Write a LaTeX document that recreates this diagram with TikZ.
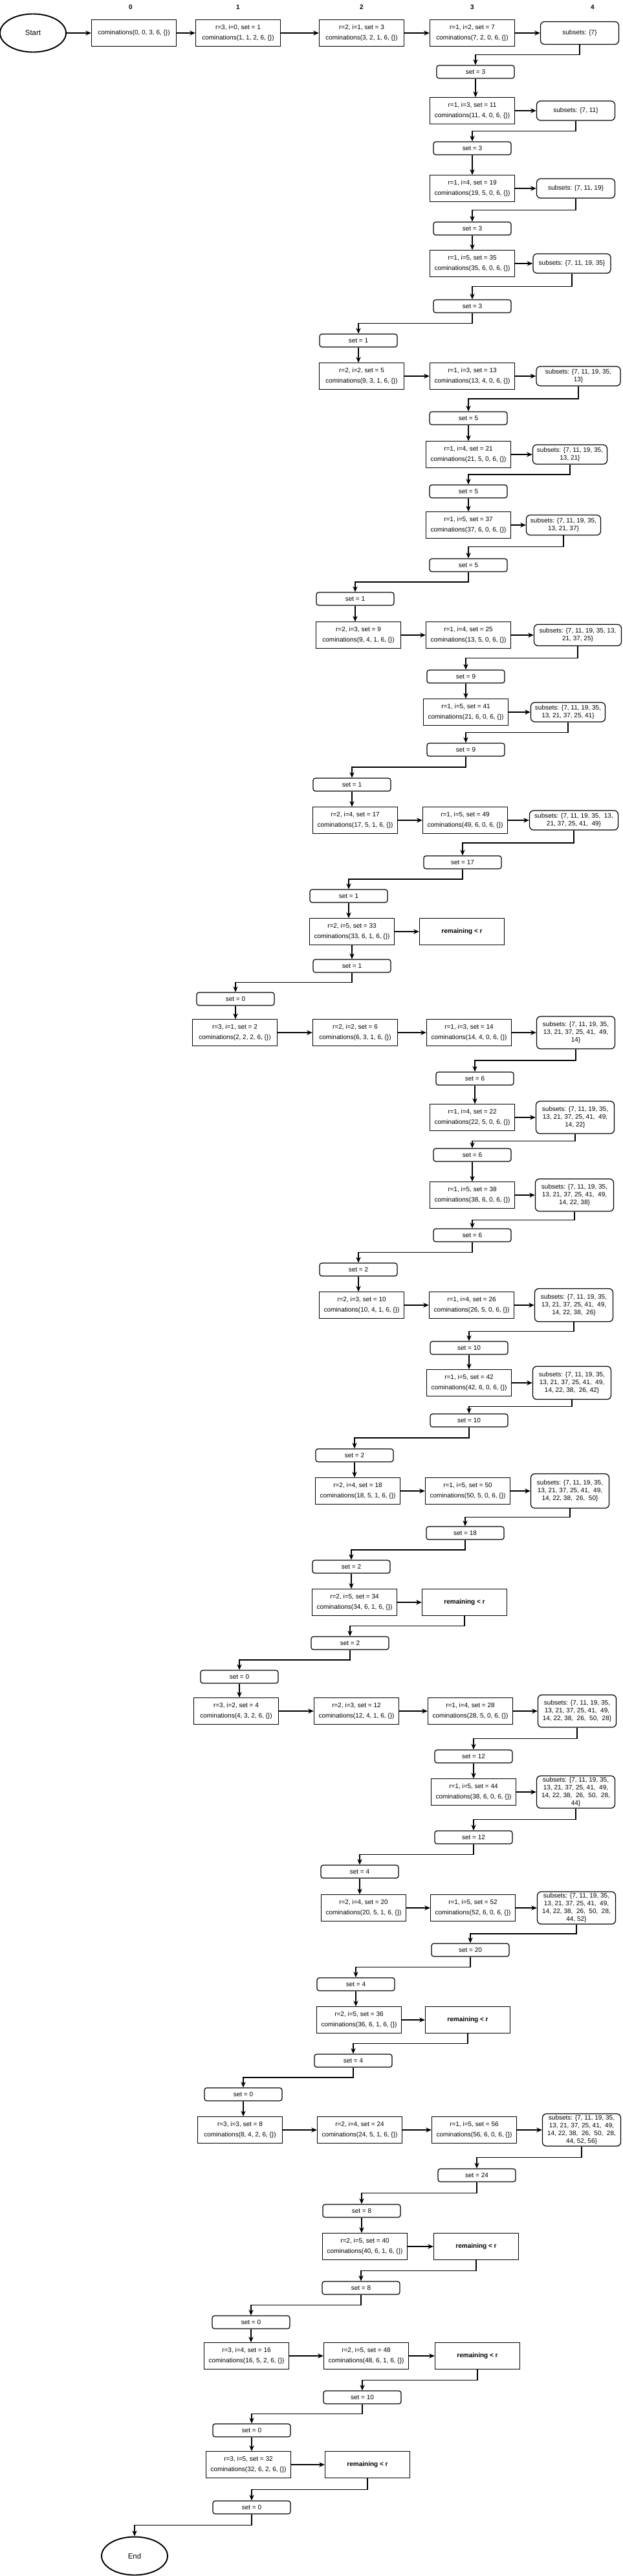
\documentclass[tikz,border=0pt]{standalone}
\usepackage{fontspec}
\setmainfont{Liberation Sans}
\usetikzlibrary{shapes.geometric, arrows.meta, calc, positioning}

\tikzstyle{terminal} = [ellipse, minimum width=2.04cm, minimum height=1.18cm, inner sep=0pt, text centered, draw=black, line width=1.1pt, font=\fontsize{6.5}{7.8}\selectfont]
\tikzstyle{call} = [rectangle, minimum width=2.62cm, minimum height=0.81cm, inner sep=1pt, align=center, draw=black, line width=0.7pt, font=\fontsize{5.7}{8.9}\selectfont]
\tikzstyle{setbox} = [rectangle, rounded corners=2pt, minimum width=2.4cm, minimum height=0.4cm, inner sep=1pt, text centered, draw=black, line width=0.7pt, font=\fontsize{5.7}{6.8}\selectfont]
\tikzstyle{subsets} = [rectangle, rounded corners=3.5pt, minimum width=2.42cm, minimum height=0.6cm, inner sep=1pt, align=center, draw=black, line width=0.7pt, font=\fontsize{5.7}{6.8}\selectfont]
\tikzstyle{remaining} = [call, font=\fontsize{5.7}{6.8}\selectfont\bfseries]
\tikzstyle{header} = [font=\fontsize{5.7}{6.8}\selectfont\bfseries]
\tikzstyle{arrow} = [line width=0.65pt,->,>={Stealth[length=5pt,width=4.2pt]}]
\tikzstyle{elbow} = [to path={(\tikztostart) |- ($(\tikztostart)!0.5!(\tikztotarget)$) -| (\tikztotarget)}]

\begin{document}
\begin{tikzpicture}[node distance = 1.2cm, auto]
	\useasboundingbox (0,0) rectangle (19.24,-79.58);
	% Place nodes
	\node [terminal] (Start) at (1.02,-1.02) {Start};
	\node [call, right of=Start, xshift=1.92cm] (Call0) {cominations(0, 0, 3, 6, \{\})};
	\node [call, right of=Call0, xshift=2.02cm] (Call1) {r=3, i=0, set = 1\\cominations(1, 1, 2, 6, \{\})};
	\node [call, right of=Call1, xshift=2.62cm] (Call2) {r=2, i=1, set = 3\\cominations(3, 2, 1, 6, \{\})};
	\node [call, right of=Call2, xshift=2.22cm] (Call3) {r=1, i=2, set = 7\\cominations(7, 2, 0, 6, \{\})};
	\node [subsets, right of=Call3, xshift=2.12cm, minimum height=0.7cm] (Subsets1) {subsets: \{7\}};
	\node [header, above of=Call0, xshift=-0.1cm, yshift=-0.4cm] (Col0) {0};
	\node [header, above of=Call1, yshift=-0.4cm] (Col1) {1};
	\node [header, above of=Call2, yshift=-0.4cm] (Col2) {2};
	\node [header, above of=Call3, yshift=-0.4cm] (Col3) {3};
	\node [header, above of=Subsets1, xshift=0.4cm, yshift=-0.4cm] (Col4) {4};

	\node [setbox, below of=Call3, xshift=0.1cm] (Set1) {set = 3};
	\node [call, below of=Set1, xshift=-0.1cm] (Call4) {r=1, i=3, set = 11\\cominations(11, 4, 0, 6, \{\})};
	\node [subsets, right of=Call4, xshift=2cm] (Subsets2) {subsets: \{7, 11\}};
	\node [setbox, below of=Call4, yshift=0.04cm] (Set2) {set = 3};
	\node [call, below of=Set2, yshift=-0.04cm] (Call5) {r=1, i=4, set = 19\\cominations(19, 5, 0, 6, \{\})};
	\node [subsets, right of=Call5, xshift=2cm] (Subsets3) {subsets: \{7, 11, 19\}};
	\node [setbox, below of=Call5, yshift=-0.04cm] (Set3) {set = 3};
	\node [call, below of=Set3, yshift=0.12cm] (Call6) {r=1, i=5, set = 35\\cominations(35, 6, 0, 6, \{\})};
	\node [subsets, right of=Call6, xshift=1.88cm, minimum width=2.4cm] (Subsets4) {subsets: \{7, 11, 19, 35\}};
	\node [setbox, below of=Call6, yshift=-0.12cm] (Set4) {set = 3};

	\node [setbox, below of=Set4, xshift=-3.52cm, yshift=0.14cm] (Set5) {set = 1};
	\node [call, below of=Set5, xshift=0.1cm, yshift=0.1cm] (Call7) {r=2, i=2, set = 5\\cominations(9, 3, 1, 6, \{\})};
	\node [call, right of=Call7, xshift=2.22cm] (Call8) {r=1, i=3, set = 13\\cominations(13, 4, 0, 6, \{\})};
	\node [subsets, right of=Call8, xshift=2.08cm, minimum width=2.6cm] (Subsets5) {subsets: \{7, 11, 19, 35,\\13\}};
	\node [setbox, below of=Call8, xshift=-0.12cm, yshift=-0.1cm] (Set6) {set = 5};
	\node [call, below of=Set6, yshift=0.08cm] (Call9) {r=1, i=4, set = 21\\cominations(21, 5, 0, 6, \{\})};
	\node [subsets, right of=Call9, xshift=1.94cm, minimum width=2.3cm] (Subsets6) {subsets: \{7, 11, 19, 35,\\13, 21\}};
	\node [setbox, below of=Call9, yshift=0.06cm] (Set7) {set = 5};
	\node [call, below of=Set7, yshift=0.16cm] (Call10) {r=1, i=5, set = 37\\cominations(37, 6, 0, 6, \{\})};
	\node [subsets, right of=Call10, xshift=1.74cm, minimum width=2.3cm, minimum height=0.62cm] (Subsets7) {subsets: \{7, 11, 19, 35,\\13, 21, 37\}};
	\node [setbox, below of=Call10, yshift=-0.04cm] (Set8) {set = 5};

	\node [setbox, below of=Set8, xshift=-3.5cm, yshift=0.16cm] (Set9) {set = 1};
	\node [call, below of=Set9, xshift=0.1cm, yshift=0.08cm] (Call11) {r=2, i=3, set = 9\\cominations(9, 4, 1, 6, \{\})};
	\node [call, right of=Call11, xshift=2.2cm] (Call12) {r=1, i=4, set = 25\\cominations(13, 5, 0, 6, \{\})};
	\node [subsets, right of=Call12, xshift=2.18cm, minimum width=2.7cm, minimum height=0.66cm] (Subsets8) {subsets: \{7, 11, 19, 35, 13,\\21, 37, 25\}};
	\node [setbox, below of=Call12, xshift=-0.08cm, yshift=-0.08cm] (Set10) {set = 9};
	\node [call, below of=Set10, yshift=0.1cm] (Call13) {r=1, i=5, set = 41\\cominations(21, 6, 0, 6, \{\})};
	\node [subsets, right of=Call13, xshift=1.96cm, minimum width=2.3cm] (Subsets9) {subsets: \{7, 11, 19, 35,\\13, 21, 37, 25, 41\}};
	\node [setbox, below of=Call13, yshift=0.04cm] (Set11) {set = 9};

	\node [setbox, below of=Set11, xshift=-3.52cm, yshift=0.12cm] (Set12) {set = 1};
	\node [call, below of=Set12, xshift=0.1cm, yshift=0.1cm] (Call14) {r=2, i=4, set = 17\\cominations(17, 5, 1, 6, \{\})};
	\node [call, right of=Call14, xshift=2.2cm] (Call15) {r=1, i=5, set = 49\\cominations(49, 6, 0, 6, \{\})};
	\node [subsets, right of=Call15, xshift=2.16cm, minimum width=2.74cm] (Subsets10) {subsets: \{7, 11, 19, 35, \ 13,\\21, 37, 25, 41, \ 49\}};
	\node [setbox, below of=Call15, xshift=-0.08cm, yshift=-0.1cm] (Set13) {set = 17};

	\node [setbox, below of=Set13, xshift=-3.52cm, yshift=0.16cm] (Set14) {set = 1};
	\node [call, below of=Set14, xshift=0.1cm, yshift=0.1cm] (Call16) {r=2, i=5, set = 33\\cominations(33, 6, 1, 6, \{\})};
	\node [remaining, right of=Call16, xshift=2.2cm] (Remaining1) {remaining < r};
	\node [setbox, below of=Call16, yshift=0.14cm] (Set15) {set = 1};

	\node [setbox, below of=Set15, xshift=-3.6cm, yshift=0.18cm] (Set16) {set = 0};
	\node [call, below of=Set16, xshift=-0.02cm, yshift=0.16cm] (Call17) {r=3, i=1, set = 2\\cominations(2, 2, 2, 6, \{\})};
	\node [call, right of=Call17, xshift=2.52cm] (Call18) {r=2, i=2, set = 6\\cominations(6, 3, 1, 6, \{\})};
	\node [call, right of=Call18, xshift=2.32cm] (Call19) {r=1, i=3, set = 14\\cominations(14, 4, 0, 6, \{\})};
	\node [subsets, right of=Call19, xshift=2.1cm, minimum height=1cm] (Subsets11) {subsets: \{7, 11, 19, 35,\\13, 21, 37, 25, 41, \ 49,\\14\}};
	\node [setbox, below of=Call19, xshift=0.18cm, yshift=-0.22cm] (Set17) {set = 6};
	\node [call, below of=Set17, xshift=-0.08cm] (Call20) {r=1, i=4, set = 22\\cominations(22, 5, 0, 6, \{\})};
	\node [subsets, right of=Call20, xshift=1.98cm, minimum height=1cm] (Subsets12) {subsets: \{7, 11, 19, 35,\\13, 21, 37, 25, 41, \ 49,\\14, 22\}};
	\node [setbox, below of=Call20, yshift=0.04cm] (Set18) {set = 6};
	\node [call, below of=Set18, yshift=-0.04cm] (Call21) {r=1, i=5, set = 38\\cominations(38, 6, 0, 6, \{\})};
	\node [subsets, right of=Call21, xshift=1.96cm, minimum height=1cm] (Subsets13) {subsets: \{7, 11, 19, 35,\\13, 21, 37, 25, 41, \ 49,\\14, 22, 38\}};
	\node [setbox, below of=Call21, yshift=-0.04cm] (Set19) {set = 6};

	\node [setbox, below of=Set19, xshift=-3.52cm, yshift=0.14cm] (Set20) {set = 2};
	\node [call, below of=Set20, xshift=0.1cm, yshift=0.1cm] (Call22) {r=2, i=3, set = 10\\cominations(10, 4, 1, 6, \{\})};
	\node [call, right of=Call22, xshift=2.2cm] (Call23) {r=1, i=4, set = 26\\cominations(26, 5, 0, 6, \{\})};
	\node [subsets, right of=Call23, xshift=1.96cm, minimum height=1.02cm] (Subsets14) {subsets: \{7, 11, 19, 35,\\13, 21, 37, 25, 41, \ 49,\\14, 22, 38, \ 26\}};
	\node [setbox, below of=Call23, xshift=-0.08cm, yshift=-0.12cm] (Set21) {set = 10};
	\node [call, below of=Set21, yshift=0.12cm] (Call24) {r=1, i=5, set = 42\\cominations(42, 6, 0, 6, \{\})};
	\node [subsets, right of=Call24, xshift=1.98cm, minimum height=1.02cm] (Subsets15) {subsets: \{7, 11, 19, 35,\\13, 21, 37, 25, 41, \ 49,\\14, 22, 38, \ 26, 42\}};
	\node [setbox, below of=Call24, yshift=0.04cm] (Set22) {set = 10};

	\node [setbox, below of=Set22, xshift=-3.54cm, yshift=0.12cm] (Set23) {set = 2};
	\node [call, below of=Set23, xshift=0.1cm, yshift=0.1cm] (Call25) {r=2, i=4, set = 18\\cominations(18, 5, 1, 6, \{\})};
	\node [call, right of=Call25, xshift=2.2cm] (Call26) {r=1, i=5, set = 50\\cominations(50, 5, 0, 6, \{\})};
	\node [subsets, right of=Call26, xshift=1.96cm, minimum height=1.06cm] (Subsets16) {subsets: \{7, 11, 19, 35,\\13, 21, 37, 25, 41, \ 49,\\14, 22, 38, \ 26, \ 50\}};
	\node [setbox, below of=Call26, xshift=-0.08cm, yshift=-0.1cm] (Set24) {set = 18};

	\node [setbox, below of=Set24, xshift=-3.52cm, yshift=0.16cm] (Set25) {set = 2};
	\node [call, below of=Set25, xshift=0.1cm, yshift=0.1cm] (Call27) {r=2, i=5, set = 34\\cominations(34, 6, 1, 6, \{\})};
	\node [remaining, right of=Call27, xshift=2.2cm] (Remaining2) {remaining < r};
	\node [setbox, below of=Call27, xshift=-0.14cm, yshift=-0.06cm] (Set26) {set = 2};

	\node [setbox, below of=Set26, xshift=-3.42cm, yshift=0.16cm] (Set27) {set = 0};
	\node [call, below of=Set27, xshift=-0.1cm, yshift=0.14cm] (Call28) {r=3, i=2, set = 4\\cominations(4, 3, 2, 6, \{\})};
	\node [call, right of=Call28, xshift=2.52cm] (Call29) {r=2, i=3, set = 12\\cominations(12, 4, 1, 6, \{\})};
	\node [call, right of=Call29, xshift=2.32cm] (Call30) {r=1, i=4, set = 28\\cominations(28, 5, 0, 6, \{\})};
	\node [subsets, right of=Call30, xshift=2.1cm, minimum height=1cm] (Subsets17) {subsets: \{7, 11, 19, 35,\\13, 21, 37, 25, 41, \ 49,\\14, 22, 38, \ 26, \ 50, \ 28\}};
	\node [setbox, below of=Call30, xshift=0.1cm, yshift=-0.2cm] (Set28) {set = 12};
	\node [call, below of=Set28, yshift=0.1cm] (Call31) {r=1, i=5, set = 44\\cominations(38, 6, 0, 6, \{\})};
	\node [subsets, right of=Call31, xshift=1.96cm, minimum height=1cm] (Subsets18) {subsets: \{7, 11, 19, 35,\\13, 21, 37, 25, 41, \ 49,\\14, 22, 38, \ 26, \ 50, \ 28,\\44\}};
	\node [setbox, below of=Call31, yshift=-0.2cm] (Set29) {set = 12};

	\node [setbox, below of=Set29, xshift=-3.52cm, yshift=0.14cm] (Set30) {set = 4};
	\node [call, below of=Set30, xshift=0.12cm, yshift=0.08cm] (Call32) {r=2, i=4, set = 20\\cominations(20, 5, 1, 6, \{\})};
	\node [call, right of=Call32, xshift=2.18cm] (Call33) {r=1, i=5, set = 52\\cominations(52, 6, 0, 6, \{\})};
	\node [subsets, right of=Call33, xshift=2cm, minimum height=1cm] (Subsets19) {subsets: \{7, 11, 19, 35,\\13, 21, 37, 25, 41, \ 49,\\14, 22, 38, \ 26, \ 50, \ 28,\\44, 52\}};
	\node [setbox, below of=Call33, xshift=-0.08cm, yshift=-0.1cm] (Set31) {set = 20};

	\node [setbox, below of=Set31, xshift=-3.54cm, yshift=0.14cm] (Set32) {set = 4};
	\node [call, below of=Set32, xshift=0.1cm, yshift=0.1cm] (Call34) {r=2, i=5, set = 36\\cominations(36, 6, 1, 6, \{\})};
	\node [remaining, right of=Call34, xshift=2.16cm] (Remaining3) {remaining < r};
	\node [setbox, below of=Call34, xshift=-0.18cm, yshift=-0.06cm] (Set33) {set = 4};

	\node [setbox, below of=Set33, xshift=-3.4cm, yshift=0.16cm] (Set34) {set = 0};
	\node [call, below of=Set34, xshift=-0.1cm, yshift=0.1cm] (Call35) {r=3, i=3, set = 8\\cominations(8, 4, 2, 6, \{\})};
	\node [call, right of=Call35, xshift=2.5cm] (Call36) {r=2, i=4, set = 24\\cominations(24, 5, 1, 6, \{\})};
	\node [call, right of=Call36, xshift=2.34cm] (Call37) {r=1, i=5, set = 56\\cominations(56, 6, 0, 6, \{\})};
	\node [subsets, right of=Call37, xshift=2.12cm, minimum height=1cm] (Subsets20) {subsets: \{7, 11, 19, 35,\\13, 21, 37, 25, 41, \ 49,\\14, 22, 38, \ 26, \ 50, \ 28,\\44, 52, 56\}};
	\node [setbox, below of=Call37, xshift=0.08cm, yshift=-0.2cm] (Set35) {set = 24};

	\node [setbox, below of=Set35, xshift=-3.56cm, yshift=0.1cm] (Set36) {set = 8};
	\node [call, below of=Set36, xshift=0.1cm, yshift=0.1cm] (Call38) {r=2, i=5, set = 40\\cominations(40, 6, 1, 6, \{\})};
	\node [remaining, right of=Call38, xshift=2.24cm] (Remaining4) {remaining < r};
	\node [setbox, below of=Call38, xshift=-0.12cm, yshift=-0.08cm] (Set37) {set = 8};

	\node [setbox, below of=Set37, xshift=-3.4cm, yshift=0.14cm] (Set38) {set = 0};
	\node [call, below of=Set38, xshift=-0.14cm, yshift=0.16cm] (Call39) {r=3, i=4, set = 16\\cominations(16, 5, 2, 6, \{\})};
	\node [call, right of=Call39, xshift=2.5cm] (Call40) {r=2, i=5, set = 48\\cominations(48, 6, 1, 6, \{\})};
	\node [remaining, right of=Call40, xshift=2.24cm] (Remaining5) {remaining < r};
	\node [setbox, below of=Call40, xshift=-0.12cm, yshift=-0.08cm] (Set39) {set = 10};

	\node [setbox, below of=Set39, xshift=-3.42cm, yshift=0.18cm] (Set40) {set = 0};
	\node [call, below of=Set40, xshift=-0.1cm, yshift=0.14cm] (Call41) {r=3, i=5, set = 32\\cominations(32, 6, 2, 6, \{\})};
	\node [remaining, right of=Call41, xshift=2.48cm] (Remaining6) {remaining < r};
	\node [setbox, below of=Call41, xshift=0.1cm, yshift=-0.12cm] (Set41) {set = 0};
	\node [terminal, below of=Set41, xshift=-3.62cm, yshift=-0.3cm] (End) {End};

	% Draw edges
	\draw [arrow] (Start) -- (Call0);
	\draw [arrow] (Call0) -- (Call1);
	\draw [arrow] (Call1) -- (Call2);
	\draw [arrow] (Call2) -- (Call3);
	\draw [arrow] (Call3) -- (Subsets1);
	\draw [arrow] (Subsets1.south) to[elbow] (Set1.north);
	\draw [arrow] (Set1.south) -- (Set1.south |- Call4.north);
	\draw [arrow] (Call4) -- (Subsets2);
	\draw [arrow] (Subsets2.south) to[elbow] (Set2.north);
	\draw [arrow] (Set2.south) -- (Set2.south |- Call5.north);
	\draw [arrow] (Call5) -- (Subsets3);
	\draw [arrow] (Subsets3.south) to[elbow] (Set3.north);
	\draw [arrow] (Set3.south) -- (Set3.south |- Call6.north);
	\draw [arrow] (Call6) -- (Subsets4);
	\draw [arrow] (Subsets4.south) to[elbow] (Set4.north);
	\draw [arrow] (Set4.south) to[elbow] (Set5.north);
	\draw [arrow] (Set5.south) -- (Set5.south |- Call7.north);
	\draw [arrow] (Call7) -- (Call8);
	\draw [arrow] (Call8) -- (Subsets5);
	\draw [arrow] (Subsets5.south) to[elbow] (Set6.north);
	\draw [arrow] (Set6.south) -- (Set6.south |- Call9.north);
	\draw [arrow] (Call9) -- (Subsets6);
	\draw [arrow] (Subsets6.south) to[elbow] (Set7.north);
	\draw [arrow] (Set7.south) -- (Set7.south |- Call10.north);
	\draw [arrow] (Call10) -- (Subsets7);
	\draw [arrow] (Subsets7.south) to[elbow] (Set8.north);
	\draw [arrow] (Set8.south) to[elbow] (Set9.north);
	\draw [arrow] (Set9.south) -- (Set9.south |- Call11.north);
	\draw [arrow] (Call11) -- (Call12);
	\draw [arrow] (Call12) -- (Subsets8);
	\draw [arrow] (Subsets8.south) to[elbow] (Set10.north);
	\draw [arrow] (Set10.south) -- (Set10.south |- Call13.north);
	\draw [arrow] (Call13) -- (Subsets9);
	\draw [arrow] (Subsets9.south) to[elbow] (Set11.north);
	\draw [arrow] (Set11.south) to[elbow] (Set12.north);
	\draw [arrow] (Set12.south) -- (Set12.south |- Call14.north);
	\draw [arrow] (Call14) -- (Call15);
	\draw [arrow] (Call15) -- (Subsets10);
	\draw [arrow] (Subsets10.south) to[elbow] (Set13.north);
	\draw [arrow] (Set13.south) to[elbow] (Set14.north);
	\draw [arrow] (Set14.south) -- (Set14.south |- Call16.north);
	\draw [arrow] (Call16) -- (Remaining1);
	\draw [arrow] (Call16) -- (Set15);
	\draw [arrow] (Set15.south) to[elbow] (Set16.north);
	\draw [arrow] (Set16.south) -- (Set16.south |- Call17.north);
	\draw [arrow] (Call17) -- (Call18);
	\draw [arrow] (Call18) -- (Call19);
	\draw [arrow] (Call19) -- (Subsets11);
	\draw [arrow] (Subsets11.south) to[elbow] (Set17.north);
	\draw [arrow] (Set17.south) -- (Set17.south |- Call20.north);
	\draw [arrow] (Call20) -- (Subsets12);
	\draw [arrow] (Subsets12.south) to[elbow] (Set18.north);
	\draw [arrow] (Set18.south) -- (Set18.south |- Call21.north);
	\draw [arrow] (Call21) -- (Subsets13);
	\draw [arrow] (Subsets13.south) to[elbow] (Set19.north);
	\draw [arrow] (Set19.south) to[elbow] (Set20.north);
	\draw [arrow] (Set20.south) -- (Set20.south |- Call22.north);
	\draw [arrow] (Call22) -- (Call23);
	\draw [arrow] (Call23) -- (Subsets14);
	\draw [arrow] (Subsets14.south) to[elbow] (Set21.north);
	\draw [arrow] (Set21.south) -- (Set21.south |- Call24.north);
	\draw [arrow] (Call24) -- (Subsets15);
	\draw [arrow] (Subsets15.south) to[elbow] (Set22.north);
	\draw [arrow] (Set22.south) to[elbow] (Set23.north);
	\draw [arrow] (Set23.south) -- (Set23.south |- Call25.north);
	\draw [arrow] (Call25) -- (Call26);
	\draw [arrow] (Call26) -- (Subsets16);
	\draw [arrow] (Subsets16.south) to[elbow] (Set24.north);
	\draw [arrow] (Set24.south) to[elbow] (Set25.north);
	\draw [arrow] (Set25.south) -- (Set25.south |- Call27.north);
	\draw [arrow] (Call27) -- (Remaining2);
	\draw [arrow] (Remaining2.south) to[elbow] (Set26.north);
	\draw [arrow] (Set26.south) to[elbow] (Set27.north);
	\draw [arrow] (Set27.south) -- (Set27.south |- Call28.north);
	\draw [arrow] (Call28) -- (Call29);
	\draw [arrow] (Call29) -- (Call30);
	\draw [arrow] (Call30) -- (Subsets17);
	\draw [arrow] (Subsets17.south) to[elbow] (Set28.north);
	\draw [arrow] (Set28.south) -- (Set28.south |- Call31.north);
	\draw [arrow] (Call31) -- (Subsets18);
	\draw [arrow] (Subsets18.south) to[elbow] (Set29.north);
	\draw [arrow] (Set29.south) to[elbow] (Set30.north);
	\draw [arrow] (Set30.south) -- (Set30.south |- Call32.north);
	\draw [arrow] (Call32) -- (Call33);
	\draw [arrow] (Call33) -- (Subsets19);
	\draw [arrow] (Subsets19.south) to[elbow] (Set31.north);
	\draw [arrow] (Set31.south) to[elbow] (Set32.north);
	\draw [arrow] (Set32.south) -- (Set32.south |- Call34.north);
	\draw [arrow] (Call34) -- (Remaining3);
	\draw [arrow] (Remaining3.south) to[elbow] (Set33.north);
	\draw [arrow] (Set33.south) to[elbow] (Set34.north);
	\draw [arrow] (Set34.south) -- (Set34.south |- Call35.north);
	\draw [arrow] (Call35) -- (Call36);
	\draw [arrow] (Call36) -- (Call37);
	\draw [arrow] (Call37) -- (Subsets20);
	\draw [arrow] (Subsets20.south) to[elbow] (Set35.north);
	\draw [arrow] (Set35.south) to[elbow] (Set36.north);
	\draw [arrow] (Set36.south) -- (Set36.south |- Call38.north);
	\draw [arrow] (Call38) -- (Remaining4);
	\draw [arrow] (Remaining4.south) to[elbow] (Set37.north);
	\draw [arrow] (Set37.south) to[elbow] (Set38.north);
	\draw [arrow] (Set38.south) -- (Set38.south |- Call39.north);
	\draw [arrow] (Call39) -- (Call40);
	\draw [arrow] (Call40) -- (Remaining5);
	\draw [arrow] (Remaining5.south) to[elbow] (Set39.north);
	\draw [arrow] (Set39.south) to[elbow] (Set40.north);
	\draw [arrow] (Set40.south) -- (Set40.south |- Call41.north);
	\draw [arrow] (Call41) -- (Remaining6);
	\draw [arrow] (Remaining6.south) to[elbow] (Set41.north);
	\draw [arrow] (Set41.south) to[elbow] (End.north);
\end{tikzpicture}
\end{document}
